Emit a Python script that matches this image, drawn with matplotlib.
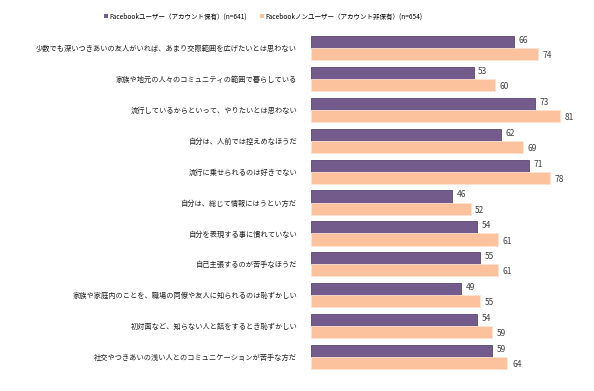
import numpy as np
import matplotlib
matplotlib.use('Agg')
import matplotlib.pyplot as plt
from matplotlib.patches import Patch

plt.rcParams['font.family'] = ['Noto Sans CJK JP', 'DejaVu Sans']

categories = [
    '少数でも深いつきあいの友人がいれば、あまり交際範囲を広げたいとは思わない',
    '家族や地元の人々のコミュニティの範囲で暮らしている',
    '流行しているからといって、やりたいとは思わない',
    '自分は、人前では控えめなほうだ',
    '流行に乗せられるのは好きでない',
    '自分は、総じて情報にはうとい方だ',
    '自分を表現する事に慣れていない',
    '自己主張するのが苦手なほうだ',
    '家族や家庭内のことを、職場の同僚や友人に知られるのは恥ずかしい',
    '初対面など、知らない人と話をするとき恥ずかしい',
    '社交やつきあいの浅い人とのコミュニケーションが苦手な方だ',
]
users = [66, 53, 73, 62, 71, 46, 54, 55, 49, 54, 59]
non_users = [74, 60, 81, 69, 78, 52, 61, 61, 55, 59, 64]
series_names = ['Facebookユーザー（アカウント保有）(n=641)',
                'Facebookノンユーザー（アカウント非保有）(n=654)']

purple = '#735b8b'
peach = '#fcc29e'

fig = plt.figure(figsize=(5.94, 3.91), dpi=100)
ax = fig.add_axes([0.5236, 0.047, 0.465, 0.870])

y = np.arange(len(categories))
h = 0.39
ax.barh(y - h / 2, users, height=h, color=purple, edgecolor='#5a4470', linewidth=0.6)
ax.barh(y + h / 2, non_users, height=h, color=peach, edgecolor='#fde3d2', linewidth=0.6)

for yi, v in zip(y, users):
    ax.text(v + 1.5, yi - h / 2 - 0.05, str(v), va='center', ha='left', fontsize=6, color='#404040')
for yi, v in zip(y, non_users):
    ax.text(v + 1.5, yi + h / 2 + 0.05, str(v), va='center', ha='left', fontsize=6, color='#404040')

ax.set_xlim(0, 90)
ax.set_ylim(len(categories) - 0.5, -0.5)
ax.set_yticks(y)
ax.set_yticklabels(categories, fontsize=5.2, color='#202020')
ax.tick_params(axis='y', length=0, pad=10)
ax.set_xticks([])
for s in ax.spines.values():
    s.set_visible(False)

handles = [Patch(facecolor=purple), Patch(facecolor=peach)]
fig.legend(handles, series_names, loc='center', bbox_to_anchor=(0.443, 0.958), ncol=2,
           frameon=False, fontsize=4.7, handlelength=0.6, handleheight=0.6,
           handletextpad=0.2, columnspacing=2.0)

fig.savefig('out.png', dpi=100)
